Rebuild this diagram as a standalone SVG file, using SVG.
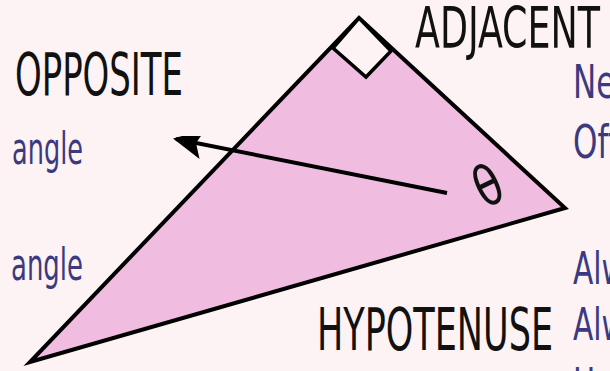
<svg xmlns="http://www.w3.org/2000/svg" width="610" height="371" viewBox="0 0 610 371">
  <defs>
    <filter id="soft" x="-5%" y="-5%" width="110%" height="110%">
      <feGaussianBlur stdDeviation="0.7"/>
    </filter>
    <marker id="head" viewBox="0 0 10 10" refX="9" refY="5" markerWidth="8" markerHeight="7.5" markerUnits="strokeWidth" orient="auto">
      <path d="M10,5 L0,0 L2.2,5 L0,10 Z" fill="#000"/>
    </marker>
  </defs>
  <style>
    .label { font-family: "Liberation Sans Narrow", "DejaVu Sans Condensed", "Liberation Sans", sans-serif; fill: #111; }
    .note { font-family: "Liberation Sans Narrow", "DejaVu Sans Condensed", "Liberation Sans", sans-serif; fill: #3b3a80; }
  </style>
  <rect width="610" height="371" fill="#fdf3f4"/>

  <g id="triangle" filter="url(#soft)">
    <polygon points="359,18 565,208 30,362" fill="#f0bde0" stroke="#000" stroke-width="4" stroke-linejoin="miter"/>
    <polygon points="359,18 333,48 366,77 391,51" fill="#fdf3f4" stroke="#000" stroke-width="3.5"/>
  </g>

  <g id="connectors" filter="url(#soft)">
    <line x1="447" y1="193" x2="176" y2="139" stroke="#000" stroke-width="4" marker-end="url(#head)"/>
  </g>

  <g id="theta">
    <text x="0" y="0" transform="translate(488,186) rotate(-26) scale(0.85,1)" class="label" font-size="56" text-anchor="middle" dominant-baseline="central">θ</text>
  </g>

  <g id="adjacent">
    <text class="label" x="415" y="48" font-size="57" textLength="185" lengthAdjust="spacingAndGlyphs">ADJACENT</text>
  </g>
  <g id="opposite">
    <text class="label" x="15" y="95" font-size="58" textLength="168" lengthAdjust="spacingAndGlyphs">OPPOSITE</text>
  </g>
  <g id="hypotenuse">
    <text class="label" x="317" y="350" font-size="58" textLength="236" lengthAdjust="spacingAndGlyphs">HYPOTENUSE</text>
  </g>

  <g id="notes-left">
    <text class="note" x="12" y="164" font-size="45" textLength="71" lengthAdjust="spacingAndGlyphs">angle</text>
    <text class="note" x="11" y="280" font-size="45" textLength="72" lengthAdjust="spacingAndGlyphs">angle</text>
  </g>

  <g id="notes-right">
    <text class="note" transform="translate(573,98) scale(0.75,1)" font-size="46">Ne</text>
    <text class="note" transform="translate(573,158) scale(0.75,1)" font-size="46">Oft</text>
    <text class="note" transform="translate(573,284) scale(0.75,1)" font-size="44">Alw</text>
    <text class="note" transform="translate(573,340) scale(0.75,1)" font-size="44">Alw</text>
    <text class="note" transform="translate(573,400) scale(0.75,1)" font-size="44">H</text>
  </g>
</svg>
